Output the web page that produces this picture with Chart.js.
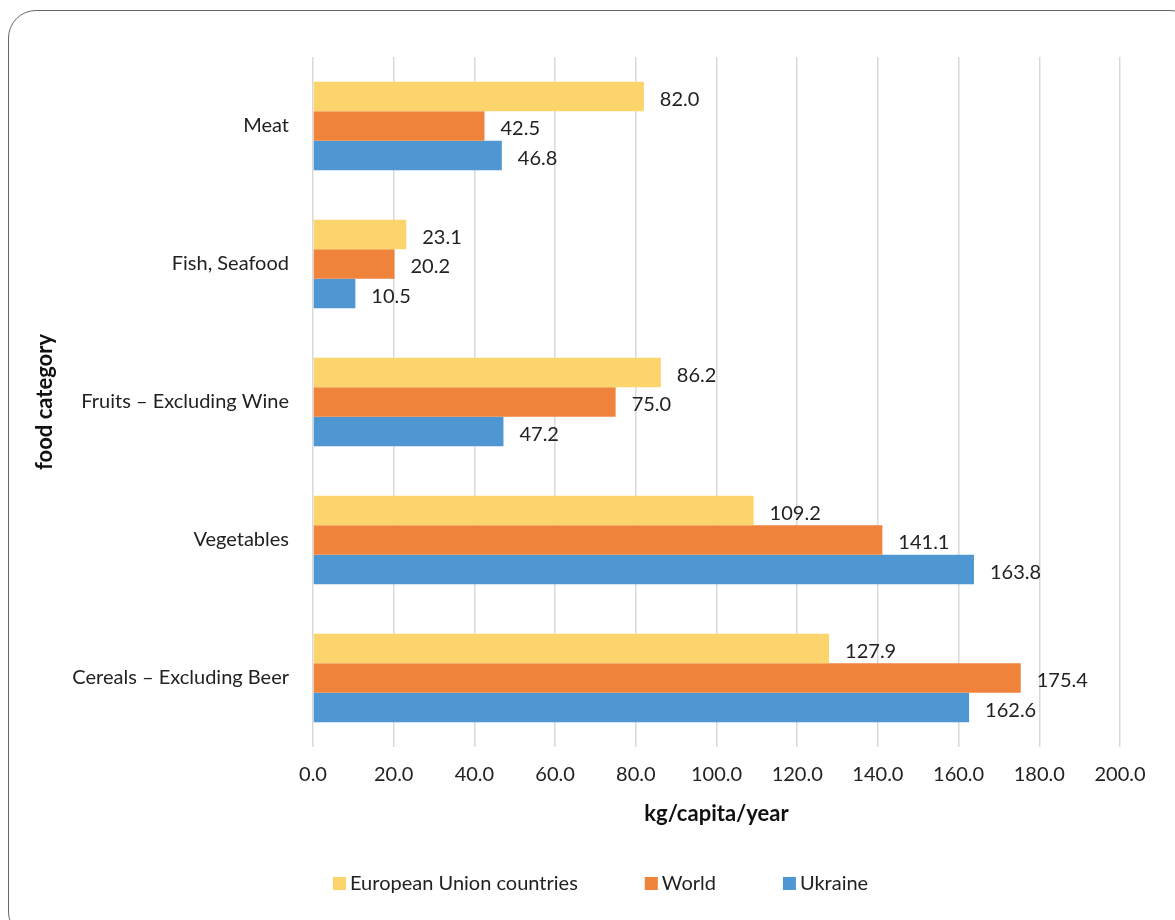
<!DOCTYPE html>
<html>
<head>
<meta charset="utf-8">
<script src="https://cdn.jsdelivr.net/npm/chart.js@4.4.1/dist/chart.umd.min.js"></script>
<style>
  html, body { margin: 0; padding: 0; background: #fff; }
  #wrap { position: relative; width: 1175px; height: 920px; overflow: hidden; }
  #frame { position: absolute; left: 8px; top: 10px; width: 1190px; height: 930px;
           border: 1.5px solid #666; border-radius: 28px; box-sizing: border-box; pointer-events: none; }
  canvas { position: absolute; left: 0; top: 0; }
</style>
</head>
<body>
<div id="wrap">
  <canvas id="c" width="1175" height="920"></canvas>
  <div id="frame"></div>
</div>
<script>
const categories = ["Meat", "Fish, Seafood", "Fruits – Excluding Wine", "Vegetables", "Cereals – Excluding Beer"];
const euValues = [82.0, 23.1, 86.2, 109.2, 127.9];
const worldValues = [42.5, 20.2, 75.0, 141.1, 175.4];
const ukraineValues = [46.8, 10.5, 47.2, 163.8, 162.6];
const seriesNames = ["European Union countries", "World", "Ukraine"];
const seriesColors = ["#FBD56B", "#F0833C", "#4F97D3"];
const xTicks = [0, 20, 40, 60, 80, 100, 120, 140, 160, 180, 200];

const FONT = "Lato, 'Open Sans', sans-serif";

const labelPlugin = {
  id: 'valueLabels',
  afterDatasetsDraw(chart) {
    const ctx = chart.ctx;
    ctx.save();
    ctx.font = "20px " + FONT;
    ctx.fillStyle = "#222";
    ctx.textAlign = "left";
    ctx.textBaseline = "middle";
    chart.data.datasets.forEach((ds, i) => {
      const meta = chart.getDatasetMeta(i);
      meta.data.forEach((bar, j) => {
        ctx.fillText(ds.data[j].toFixed(1), bar.x + 16, bar.y + 3);
      });
    });
    ctx.restore();
  }
};

const legendPlugin = {
  id: 'customLegend',
  afterDraw(chart) {
    const ctx = chart.ctx;
    ctx.save();
    ctx.font = "20px " + FONT;
    ctx.textBaseline = "middle";
    ctx.textAlign = "left";
    let x = 333;
    const y = 883;
    chart.data.datasets.forEach((ds) => {
      ctx.fillStyle = ds.backgroundColor;
      ctx.fillRect(x, y - 6, 13, 13);
      ctx.fillStyle = "#222";
      ctx.fillText(ds.label, x + 17, y + 1);
      x += 17 + ctx.measureText(ds.label).width + 67;
    });
    ctx.restore();
  }
};

new Chart(document.getElementById('c'), {
  type: 'bar',
  data: {
    labels: categories,
    datasets: [
      { label: seriesNames[0], data: euValues, backgroundColor: seriesColors[0] },
      { label: seriesNames[1], data: worldValues, backgroundColor: seriesColors[1] },
      { label: seriesNames[2], data: ukraineValues, backgroundColor: seriesColors[2] }
    ]
  },
  options: {
    indexAxis: 'y',
    responsive: false,
    animation: false,
    devicePixelRatio: 1,
    layout: { padding: { top: 57, right: 55, bottom: 0, left: 0 } },
    datasets: { bar: { categoryPercentage: 0.64, barPercentage: 1.0, borderWidth: 0 } },
    plugins: {
      legend: { display: false },
      tooltip: { enabled: false }
    },
    scales: {
      x: {
        min: 0, max: 200,
        afterBuildTicks(axis) { axis.ticks = xTicks.map(v => ({ value: v })); },
        afterFit(axis) { axis.height = 920 - 747; },
        grid: { color: '#D9D9D9', lineWidth: 1.5, drawTicks: false },
        border: { display: false },
        ticks: {
          padding: 16,
          color: '#222',
          font: { family: FONT, size: 20 },
          callback: (v) => Number(v).toFixed(1)
        },
        title: {
          display: true, text: 'kg/capita/year', color: '#111',
          font: { family: FONT, size: 22, weight: 'bold' },
          padding: { top: 0, bottom: 92.8 }
        }
      },
      y: {
        afterFit(axis) { axis.width = 313; },
        grid: { display: false, drawTicks: false },
        border: { display: false },
        ticks: {
          padding: 24,
          color: '#222',
          font: { family: FONT, size: 20 }
        },
        title: {
          display: true, text: 'food category', color: '#111',
          font: { family: FONT, size: 22, weight: 'bold' },
          padding: { top: 31.8, bottom: 0 }
        }
      }
    }
  },
  plugins: [labelPlugin, legendPlugin]
});
</script>
</body>
</html>
